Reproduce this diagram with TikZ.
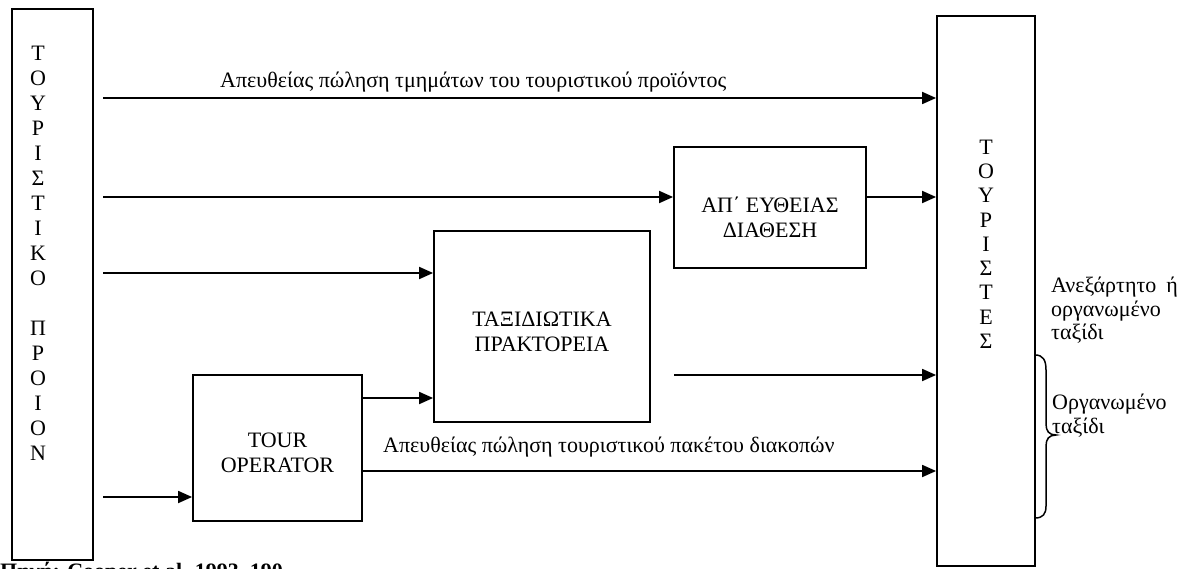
\documentclass[tikz,border=0pt]{standalone}
\usepackage{fontspec}
\setmainfont{Liberation Serif}
\usetikzlibrary{arrows.meta}
\begin{document}
\begin{tikzpicture}[x=1pt,y=-1pt,
  frame/.style={draw, line width=1.8pt, inner sep=0pt},
  flow/.style={line width=1.8pt, -{Triangle[length=14pt,width=12pt]}},
  txt/.style={font=\fontsize{22}{25}\selectfont, inner sep=0pt, align=center},
  sidetxt/.style={font=\fontsize{22}{23.5}\selectfont, inner sep=0pt, align=left}]
\useasboundingbox (0,0) rectangle (1193,569);
\clip (0,0) rectangle (1193,569);

% main blocks
\node[frame, minimum width=81pt, minimum height=551pt] (prod) at (52.5,284.5) {};
\node[frame, minimum width=98pt, minimum height=550pt] (tour) at (986,291) {};
\node[frame, minimum width=192pt, minimum height=121pt] (ap) at (770,207.5) {};
\node[frame, minimum width=216pt, minimum height=191pt] (tax) at (542,326.5) {};
\node[frame, minimum width=169pt, minimum height=146pt] (to) at (277.5,448) {};

% block captions
\node[txt, anchor=north] (prodtxt) at (38,45.5)
  {Τ\\Ο\\Υ\\Ρ\\Ι\\Σ\\Τ\\Ι\\Κ\\Ο\\[25pt]Π\\Ρ\\Ο\\Ι\\Ο\\Ν};
\node[txt, font=\fontsize{22}{24.3}\selectfont, anchor=north] (tourtxt) at (986,139.5)
  {Τ\\Ο\\Υ\\Ρ\\Ι\\Σ\\Τ\\Ε\\Σ};
\node[txt] (aptxt) at (770,217.5) {ΑΠ΄ ΕΥΘΕΙΑΣ\\ΔΙΑΘΕΣΗ};
\node[txt] (taxtxt) at (542,332) {ΤΑΞΙΔΙΩΤΙΚΑ\\ΠΡΑΚΤΟΡΕΙΑ};
\node[txt] (totxt) at (277.5,453) {TOUR\\OPERATOR};

% connector levels
\coordinate (s1) at (103,98);
\coordinate (s2) at (103,197);
\coordinate (s3) at (103,273);
\coordinate (s4) at (103,497);
\coordinate (s5) at (674,375);
\coordinate (y6) at (0,398);
\coordinate (y7) at (0,471);

\draw[flow] (s1) -- (s1 -| tour.west);
\draw[flow] (s2) -- (s2 -| ap.west);
\draw[flow] (ap.east |- s2) -- (s2 -| tour.west);
\draw[flow] (s3) -- (s3 -| tax.west);
\draw[flow] (s5) -- (s5 -| tour.west);
\draw[flow] (s4) -- (s4 -| to.west);
\draw[flow] (to.east |- y6) -- (y6 -| tax.west);
\draw[flow] (to.east |- y7) -- (y7 -| tour.west);

% connector labels
\node[txt, anchor=base west] (l1) at (220,88)
  {Απευθείας πώληση τμημάτων του τουριστικού προϊόντος};
\node[txt, anchor=base west] (l2) at (383,452)
  {Απευθείας πώληση τουριστικού πακέτου διακοπών};

% trip type notes and brace
\node[sidetxt, anchor=north west] (n1) at (1051,277)
  {Ανεξάρτητο\hspace{10pt}ή\\οργανωμένο\\ταξίδι};
\node[sidetxt, anchor=north west] (n2) at (1052,394)
  {Οργανωμένο\\ταξίδι};
\draw[line width=1.5pt] (1035,355) .. controls (1043,355) and (1046,360) .. (1046,370)
  -- (1046,424) .. controls (1046,431) and (1049,435) .. (1056,435)
  .. controls (1049,435) and (1046,439) .. (1046,446)
  -- (1046,506) .. controls (1046,514) and (1043,518) .. (1035,518);

% source line along the lower edge
\node[txt, font=\fontsize{22}{25}\selectfont\bfseries, anchor=base west] (src) at (0,578)
  {Πηγή: Cooper et al. 1993, 190};
\end{tikzpicture}
\end{document}
